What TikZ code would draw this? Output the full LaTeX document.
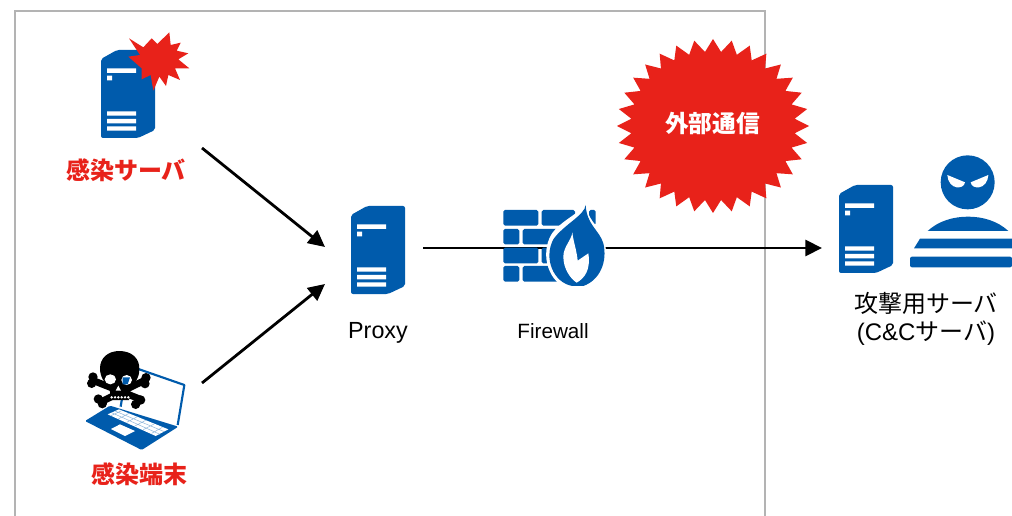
\documentclass[tikz,border=0pt]{standalone}
\usepackage{fontspec}
\setmainfont{Liberation Sans}
\newfontfamily\jp{Noto Sans CJK JP}
\definecolor{iconblue}{HTML}{005BAC}
\definecolor{alertred}{HTML}{E8221A}
\definecolor{framegray}{HTML}{B3B3B3}
\usetikzlibrary{arrows.meta}
\tikzset{
  framerule/.style={draw=framegray,line width=1.5pt},
  flow/.style={draw=black,line width=2.1pt,-{Triangle[length=12.5pt,width=12pt]}},
  alertlabel/.style={font=\jp\bfseries\fontsize{18}{21}\selectfont,text=alertred,inner sep=0pt},
  burstlabel/.style={font=\jp\bfseries\fontsize{17.8}{21}\selectfont,text=white,inner sep=0pt},
  plainlabel/.style={font=\fontsize{17.5}{21}\selectfont,text=black,inner sep=0pt},
  cjklabel/.style={font=\fontsize{18}{21}\selectfont,text=black,inner sep=0pt},
  smalllabel/.style={font=\fontsize{15.5}{19}\selectfont,text=black,inner sep=0pt},
  zoomunits/.style={x=0.25pt,y=-0.25pt},
  serverpic/.pic={
    \fill[iconblue,rounded corners=1.5pt] (0,9)--(16,0)--(54,0)--(54,80)--(37,88)--(0,88)--cycle;
    \fill[white] (6,18.3) rectangle (35,23) (6,25.7) rectangle (11,30.3)
      (6,61.3) rectangle (35,65.7) (6,69) rectangle (35,73.3) (6,76.3) rectangle (35,80.7);
  }
}
\begin{document}
\begin{tikzpicture}[x=0.75pt,y=-0.75pt]
\useasboundingbox (0,0) rectangle (1012,516);
\fill[white] (0,0) rectangle (1012,516);
% frame
\coordinate (fa) at (15,516);\coordinate (fb) at (15,11);\coordinate (fc) at (765,11);\coordinate (fd) at (765,516);
\draw[framerule] (fa)--(fb)--(fc)--(fd);
% connector ends
\coordinate (srcA) at (202,148);\coordinate (srcB) at (202,383);
\coordinate (proxyInA) at (325,247);\coordinate (proxyInB) at (325,284);
\coordinate (proxyOut) at (423,248);\coordinate (attackIn) at (822,248);
\draw[flow] (srcA)--(proxyInA);
\draw[flow] (srcB)--(proxyInB);
\draw[flow] (proxyOut)--(attackIn);
% servers
\pic at (101,50) {serverpic};
\pic at (351,206) {serverpic};
\pic at (839,185) {serverpic};
% small burst
\begin{scope}[shift={(60,20)},zoomunits]
\fill[alertred] (207,55)--(250,82)--(275,55)--(292,72)--(328,37)--(332,75)--(362,68)--(350,92)--(385,100)--(355,118)--(388,145)--(345,145)--(360,180)--(325,165)--(318,198)--(298,170)--(280,212)--(272,165)--(245,178)--(245,145)--(205,110)--(240,105)--cycle;
\end{scope}
% big burst
\fill[alertred] (809,126) \foreach \i in {1,...,63}{ -- ({713+96*(1-.145*mod(\i,2))*cos(\i*5.625)},{126+87*(1-.145*mod(\i,2))*sin(\i*5.625)})} -- cycle;
% firewall
\begin{scope}[shift={(495,200)},zoomunits]
\fill[iconblue,rounded corners=1.2pt]
  (25,30) rectangle (130,77) (140,30) rectangle (240,77) (282,30) rectangle (302,75)
  (25,87) rectangle (73,133) (83,87) rectangle (190,133)
  (25,143) rectangle (130,190) (140,143) rectangle (170,190)
  (25,198) rectangle (73,245) (83,198) rectangle (190,245);
\fill[white] (272,3) .. controls (270,35) and (195,60) .. (168,105) .. controls (135,165) and (160,250) .. (225,268) -- (290,268) .. controls (335,240) and (345,165) .. (322,105) .. controls (308,75) and (275,60) .. (272,3) -- cycle;
\fill[iconblue] (272,15) .. controls (270,45) and (205,75) .. (175,118) .. controls (145,175) and (175,248) .. (232,258) -- (265,258) .. controls (315,240) and (338,185) .. (325,130) .. controls (313,90) and (275,75) .. (272,15) -- cycle;
\fill[white] (232,97) .. controls (230,120) and (205,140) .. (205,170) .. controls (205,205) and (225,235) .. (245,248) .. controls (268,235) and (288,210) .. (280,160) -- (248,182) .. controls (245,150) and (235,125) .. (232,97) -- cycle;
\end{scope}
% thief
\begin{scope}[shift={(825,145)},zoomunits]
\fill[iconblue] (428,31) .. controls (473,31) and (509,67) .. (509,112) .. controls (509,157) and (473,193) .. (428,193) .. controls (383,193) and (347,157) .. (347,112) .. controls (347,67) and (383,31) .. (428,31) -- cycle;
\fill[white] (367,90) -- (420,112) .. controls (418,125) and (405,128) .. (395,127) .. controls (380,125) and (368,110) .. (367,90) -- cycle;
\fill[white] (490,90) -- (437,112) .. controls (439,125) and (452,128) .. (462,127) .. controls (477,125) and (489,110) .. (490,90) -- cycle;
\fill[iconblue] (308,258) .. controls (340,228) and (385,215) .. (429,215) .. controls (473,215) and (518,228) .. (550,258) -- cycle;
\fill[iconblue] (285,281) -- (561,281) -- (561,310) -- (267,310) -- cycle;
\fill[iconblue,rounded corners=1.5pt] (255,335) -- (561,335) -- (561,367) -- (255,367) -- cycle;
\end{scope}
% laptop and skull
\begin{scope}[shift={(85,345)},zoomunits]
\draw[iconblue,line width=1.6pt,line join=round] (160,72) -- (298,120) -- (278,240);
\draw[iconblue,line width=1.6pt] (123,90) -- (107,185);
\fill[iconblue,rounded corners=1pt] (0,228) -- (75,182) -- (280,245) -- (170,315) -- cycle;
\fill[white] (68,208) -- (102,193) -- (250,253) -- (212,273) -- cycle;
\draw[iconblue!45,line width=.35pt] (80,203)--(225,268) (90,198)--(238,260) (78,212)--(110,197) (100,222)--(132,205) (125,232)--(157,215) (150,243)--(182,226) (175,254)--(207,237) (200,265)--(232,247);
\fill[white] (78,252) -- (105,238) -- (150,258) -- (120,273) -- cycle;
% bones
\draw[black,line width=5.2pt] (28,108) -- (172,165);
\draw[black,line width=5.2pt] (175,108) -- (45,172);
\fill[black] (24,96) circle[radius=14] (20,115) circle[radius=14] (183,98) circle[radius=14] (180,116) circle[radius=14]
  (40,162) circle[radius=14] (52,176) circle[radius=14] (152,178) circle[radius=14] (167,165) circle[radius=14];
% cranium
\fill[black] (103,18) .. controls (140,18) and (165,40) .. (163,75) .. controls (162,100) and (150,115) .. (138,125) -- (132,165) -- (78,165) -- (73,125) .. controls (58,115) and (45,95) .. (45,70) .. controls (45,40) and (68,18) .. (103,18) -- cycle;
\fill[white] (76,103) ellipse[x radius=17,y radius=15];
\fill[white] (125,105) ellipse[x radius=16,y radius=15];
\fill[iconblue] (113,97) -- (135,97) -- (128,118) -- (113,118) -- cycle;
\fill[white] (100,122) -- (108,137) -- (92,137) -- cycle;
\foreach \tx in {80,90,100,110,120,130}{\fill[white] (\tx,157) circle[radius=4];}
\end{scope}
% labels
\node[alertlabel] (lblA) at (126,170) {感染サーバ};
\node[alertlabel] (lblB) at (139,474) {感染端末};
\node[burstlabel] (lblC) at (712.5,123) {外部通信};
\node[plainlabel] (lblP) at (378,333) {Proxy};
\node[smalllabel] (lblF) at (553,331) {Firewall};
\node[cjklabel] (lblS1) at (926,303) {\jp 攻撃用サーバ};
\node[cjklabel] (lblS2) at (926,333) {(C\&C{\jp サーバ})};
\end{tikzpicture}
\end{document}
